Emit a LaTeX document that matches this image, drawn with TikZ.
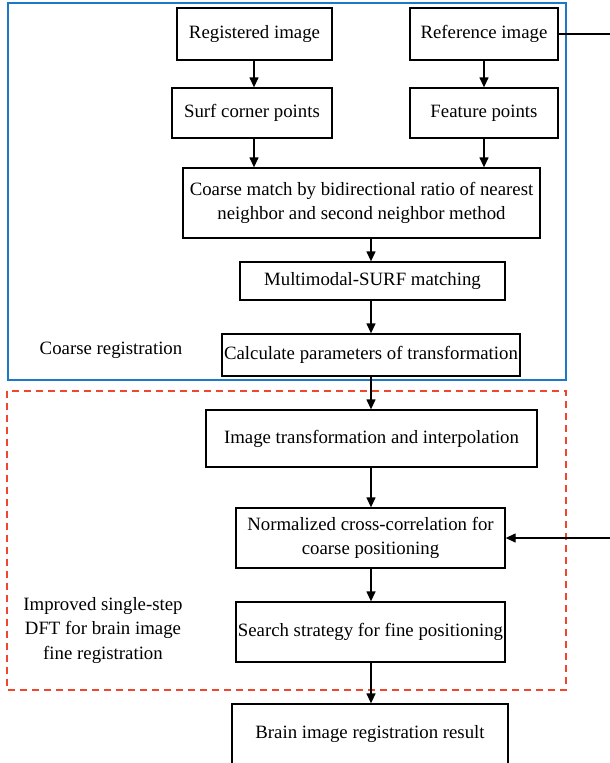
\documentclass[tikz,border=0pt]{standalone}
\usepackage{fontspec}
\setmainfont{Liberation Serif}
\usetikzlibrary{arrows.meta}
\definecolor{frameblue}{RGB}{30,120,200}
\definecolor{framered}{RGB}{240,70,45}
\begin{document}
\begin{tikzpicture}[x=1pt,y=-1pt,
  box/.style={draw, line width=1.3pt, align=center, inner sep=0pt, font=\fontsize{18.8}{23.5}\selectfont},
  arr/.style={line width=1.3pt, -{Triangle[length=10pt,width=9pt]}},
  lbl/.style={align=center, font=\fontsize{18.8}{24.5}\selectfont}]
\useasboundingbox (0,0) rectangle (610,763);
\draw[frameblue, line width=1.3pt] (8,3) rectangle (566,380);
\draw[framered, line width=1.1pt, dash pattern=on 7pt off 5pt] (7,391) rectangle (566,690);
\node[box, minimum width=155pt, minimum height=52pt] (reg) at (254.5,34) {Registered image};
\node[box, minimum width=148pt, minimum height=52pt] (ref) at (484,34) {Reference image};
\node[box, minimum width=160pt, minimum height=50pt] (surf) at (252,113) {Surf corner points};
\node[box, minimum width=148pt, minimum height=50pt] (feat) at (484,113) {Feature points};
\node[box, minimum width=357pt, minimum height=70pt] (coarse) at (361.5,203) {Coarse match by bidirectional ratio of nearest\\neighbor and second neighbor method};
\node[box, minimum width=265pt, minimum height=38pt] (multi) at (372.5,281) {Multimodal-SURF matching};
\node[box, minimum width=298pt, minimum height=42pt] (calc) at (371,355) {Calculate parameters of transformation};
\node[box, minimum width=331pt, minimum height=57pt] (trans) at (371.5,438.5) {Image transformation and interpolation};
\node[box, minimum width=269pt, minimum height=60pt] (ncc) at (370.5,538) {Normalized cross-correlation for\\coarse positioning};
\node[box, minimum width=269pt, minimum height=60pt] (search) at (370.5,632) {Search strategy for fine positioning};
\node[box, minimum width=276pt, minimum height=60pt] (result) at (370,734) {Brain image registration result};
\node[lbl] (lcoarse) at (111,350) {Coarse registration};
\node[lbl] (lfine) at (103,630) {Improved single-step\\DFT for brain image\\fine registration};
\coordinate (refout) at (610,34);
\coordinate (nccin) at (610,538);
\coordinate (lx) at (254,0);
\coordinate (rx) at (484,0);
\coordinate (mx) at (371,0);
\draw[arr] (lx |- reg.south) -- (lx |- surf.north);
\draw[arr] (rx |- ref.south) -- (rx |- feat.north);
\draw[arr] (lx |- surf.south) -- (lx |- coarse.north);
\draw[arr] (rx |- feat.south) -- (rx |- coarse.north);
\draw[arr] (mx |- coarse.south) -- (mx |- multi.north);
\draw[arr] (mx |- multi.south) -- (mx |- calc.north);
\draw[arr] (mx |- calc.south) -- (mx |- trans.north);
\draw[arr] (mx |- trans.south) -- (mx |- ncc.north);
\draw[arr] (mx |- ncc.south) -- (mx |- search.north);
\draw[arr] (mx |- search.south) -- (mx |- result.north);
\draw[line width=1.3pt] (ref.east) -- (refout);
\draw[arr] (nccin) -- (ncc.east);
\end{tikzpicture}
\end{document}
